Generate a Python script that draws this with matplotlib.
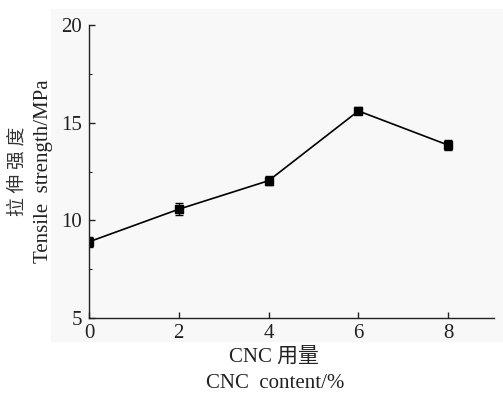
import numpy as np
import matplotlib.pyplot as plt
from matplotlib.patches import Rectangle
from matplotlib.ticker import MultipleLocator

plt.rcParams['font.family'] = ['Liberation Serif', 'Noto Sans CJK SC']

# dados
cnc = [0, 2, 4, 6, 8]
resistencia = [8.9, 10.57, 12.03, 15.6, 13.85]
erro = [0.25, 0.3, 0.22, 0.18, 0.25]

fig = plt.figure(figsize=(5.03, 3.93), dpi=100)
fig.patches.append(Rectangle((51/503, 1-341/393), 452/503, 332/393,
                             transform=fig.transFigure, color='#f8f8f8', zorder=-10))

ax = fig.add_axes([89/503, 1-318/393, 405/503, 293/393])
ax.patch.set_alpha(0)
ax.errorbar(cnc, resistencia, yerr=erro, color='black', lw=1.2,
            marker='s', ms=5.5, capsize=2.8, elinewidth=1.0, capthick=1.0)

ax.set_xlim(0, 9.02)
ax.set_ylim(5, 20)
ax.set_xticks([0, 2, 4, 6, 8])
ax.set_yticks([5, 10, 15, 20])
ax.yaxis.set_minor_locator(MultipleLocator(2.5))
ax.spines['top'].set_visible(False)
ax.spines['right'].set_visible(False)
for s in ['left', 'bottom']:
    ax.spines[s].set_color('#222222')
    ax.spines[s].set_linewidth(1.0)
ax.tick_params(direction='in', length=4, width=1.0, labelsize=15, colors='#222222')
ax.tick_params(axis='y', pad=5)
ax.tick_params(axis='x', pad=4)
ax.tick_params(which='minor', direction='in', length=2.5, width=0.8, colors='#222222')

fig.text(18/503, 1-171/393, '拉 伸 强 度', rotation=90, ha='center', va='center', fontsize=13.5, color='#333333')
fig.text(44/503, 1-171/393, 'Tensile  strength/MPa', rotation=90, ha='center', va='center', fontsize=15, color='#222222')
fig.text(274/503, 1-358/393, 'CNC 用量', ha='center', va='center', fontsize=15, color='#222222')
fig.text(275/503, 1-383/393, 'CNC  content/%', ha='center', va='center', fontsize=15, color='#222222')

plt.savefig('out.png', dpi=100)
